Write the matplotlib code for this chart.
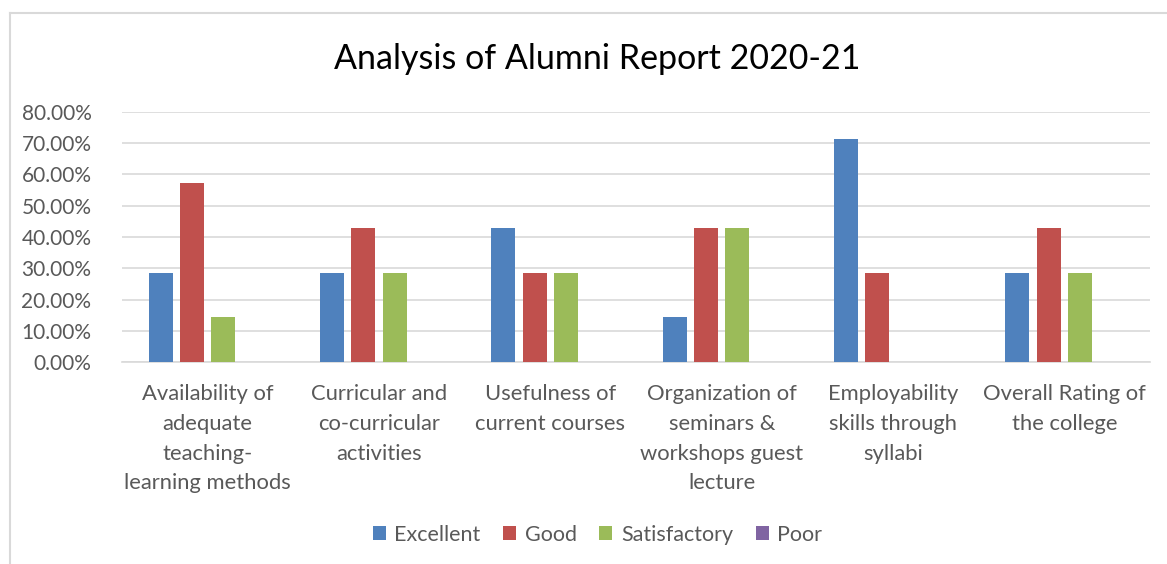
import matplotlib
matplotlib.use("Agg")
import matplotlib.pyplot as plt
import numpy as np

plt.rcParams['font.family'] = ['Lato', 'DejaVu Sans']

# data
categories = [
    "Availability of\nadequate\nteaching-\nlearning methods",
    "Curricular and\nco-curricular\nactivities",
    "Usefulness of\ncurrent courses",
    "Organization of\nseminars &\nworkshops guest\nlecture",
    "Employability\nskills through\nsyllabi",
    "Overall Rating of\nthe college",
]
series_names = ["Excellent", "Good", "Satisfactory", "Poor"]
excellent = [28.57, 28.57, 42.86, 14.29, 71.43, 28.57]
good = [57.14, 42.86, 28.57, 42.86, 28.57, 42.86]
satisfactory = [14.29, 28.57, 28.57, 42.86, 0, 28.57]
poor = [0, 0, 0, 0, 0, 0]
colors = ["#4F81BD", "#C0504D", "#9BBB59", "#8064A2"]

fig = plt.figure(figsize=(11.67, 5.64), dpi=100)
ax = fig.add_axes([0.1045, 0.358, 0.881, 0.4435])

x = np.arange(len(categories))
step = 0.183
width = 0.14
all_series = [excellent, good, satisfactory, poor]
for i, (vals, name, c) in enumerate(zip(all_series, series_names, colors)):
    ax.bar(x + (i - 1.5) * step, vals, width, color=c, label=name, zorder=3)

ax.set_xlim(-0.5, len(categories) - 0.5)
ax.set_ylim(0, 80)
ax.set_yticks(np.arange(0, 81, 10))
ax.set_yticklabels([f"{v:.2f}%" for v in np.arange(0, 81, 10)])
ax.yaxis.grid(True, color="#D9D9D9", linewidth=1.2, zorder=0)
for s in ["top", "right", "left"]:
    ax.spines[s].set_visible(False)
ax.spines["bottom"].set_color("#D9D9D9")
ax.spines["bottom"].set_linewidth(1.2)
ax.tick_params(axis="both", length=0, colors="#595959")
ax.tick_params(axis="y", pad=22, labelsize=15)
ax.tick_params(axis="x", pad=16, labelsize=15.8)
ax.set_xticks(x)
ax.set_xticklabels(categories, linespacing=1.6)

fig.text(0.512, 0.895, "Analysis of Alumni Report 2020-21", ha="center", va="center",
         fontsize=24.5, color="#000000")

fig.legend(loc="center", bbox_to_anchor=(0.512, 0.052), ncol=4, frameon=False,
           fontsize=15.5, labelcolor="#595959", handlelength=0.6, handleheight=0.6,
           handletextpad=0.4, columnspacing=1.05)

# chart frame
fig.add_artist(plt.Line2D([10 / 1167, 10 / 1167], [0, 1 - 13 / 564], color="#D9D9D9",
                          linewidth=1.5, transform=fig.transFigure))
fig.add_artist(plt.Line2D([10 / 1167, 1], [1 - 13 / 564, 1 - 13 / 564], color="#D9D9D9",
                          linewidth=1.5, transform=fig.transFigure))

fig.savefig("out.png", dpi=100)
